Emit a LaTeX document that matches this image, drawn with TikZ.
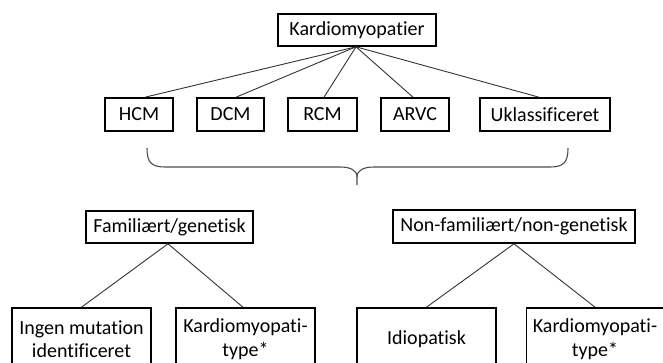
\documentclass[tikz,border=0pt]{standalone}
\usepackage{fontspec}
\setmainfont{Carlito}[Ligatures={NoCommon}]
\begin{document}
\begin{tikzpicture}[x=1pt,y=-1pt,
  box/.style={draw=black,line width=1.6pt,inner sep=0pt,align=center,
    font=\fontsize{20}{23.5}\selectfont,text=black},
  link/.style={draw=black!80,line width=0.9pt},
  brace/.style={draw=black!70,line width=1.1pt}]
\clip (0,0) rectangle (663,362);
\node[box,minimum width=158pt,minimum height=32pt] (top) at (357,30) {Kardiomyopatier};
\node[box,minimum width=68pt,minimum height=33pt] (hcm) at (139,114.5) {HCM};
\node[box,minimum width=67pt,minimum height=33pt] (dcm) at (230.5,114.5) {DCM};
\node[box,minimum width=69pt,minimum height=33pt] (rcm) at (322.5,114.5) {RCM};
\node[box,minimum width=68pt,minimum height=33pt] (arvc) at (415,114.5) {ARVC};
\node[box,minimum width=130pt,minimum height=33pt] (ukl) at (545,114.5) {Uklassificeret};
\node[box,minimum width=167pt,minimum height=32pt] (fam) at (169.5,227) {Familiært/genetisk};
\node[box,minimum width=242pt,minimum height=33pt] (nonfam) at (514,226.5) {Non-familiært/non-genetisk};
\node[box,minimum width=139pt,minimum height=62pt] (ingen) at (81.5,339) {Ingen mutation\\identificeret};
\node[box,minimum width=139pt,minimum height=62pt] (kard1) at (245.5,339) {Kardiomyopati-\\type*};
\node[box,minimum width=139pt,minimum height=62pt] (idio) at (426.5,339) {Idiopatisk};
\node[box,minimum width=137pt,minimum height=62pt] (kard2) at (595,339) {Kardiomyopati-\\type*};
\coordinate (hub) at ([xshift=-1pt]top.south);
\draw[link] (hub) -- ([xshift=6pt]hcm.north);
\draw[link] (hub) -- ([xshift=5.5pt]dcm.north);
\draw[link] (hub) -- ([xshift=1.5pt]rcm.north);
\draw[link] (hub) -- ([xshift=-2pt]arvc.north);
\draw[link] (hub) -- ([xshift=-6pt]ukl.north);
\draw[link] ([xshift=-1.5pt]fam.south) -- (ingen.north);
\draw[link] ([xshift=-1.5pt]fam.south) -- ([xshift=-2.5pt]kard1.north);
\draw[link] (nonfam.south) -- (idio.north);
\draw[link] (nonfam.south) -- (kard2.north);
\coordinate (tip) at (357,185);
\draw[brace] (147,148) .. controls (147,162) and (151,167) .. (165,167) -- (340,167)
  .. controls (350,167) and (357,170) .. (357,177) -- (tip);
\draw[brace] (357,177) .. controls (357,170) and (364,167) .. (374,167) -- (550,167)
  .. controls (564,167) and (568,162) .. (568,148);
\end{tikzpicture}
\end{document}
